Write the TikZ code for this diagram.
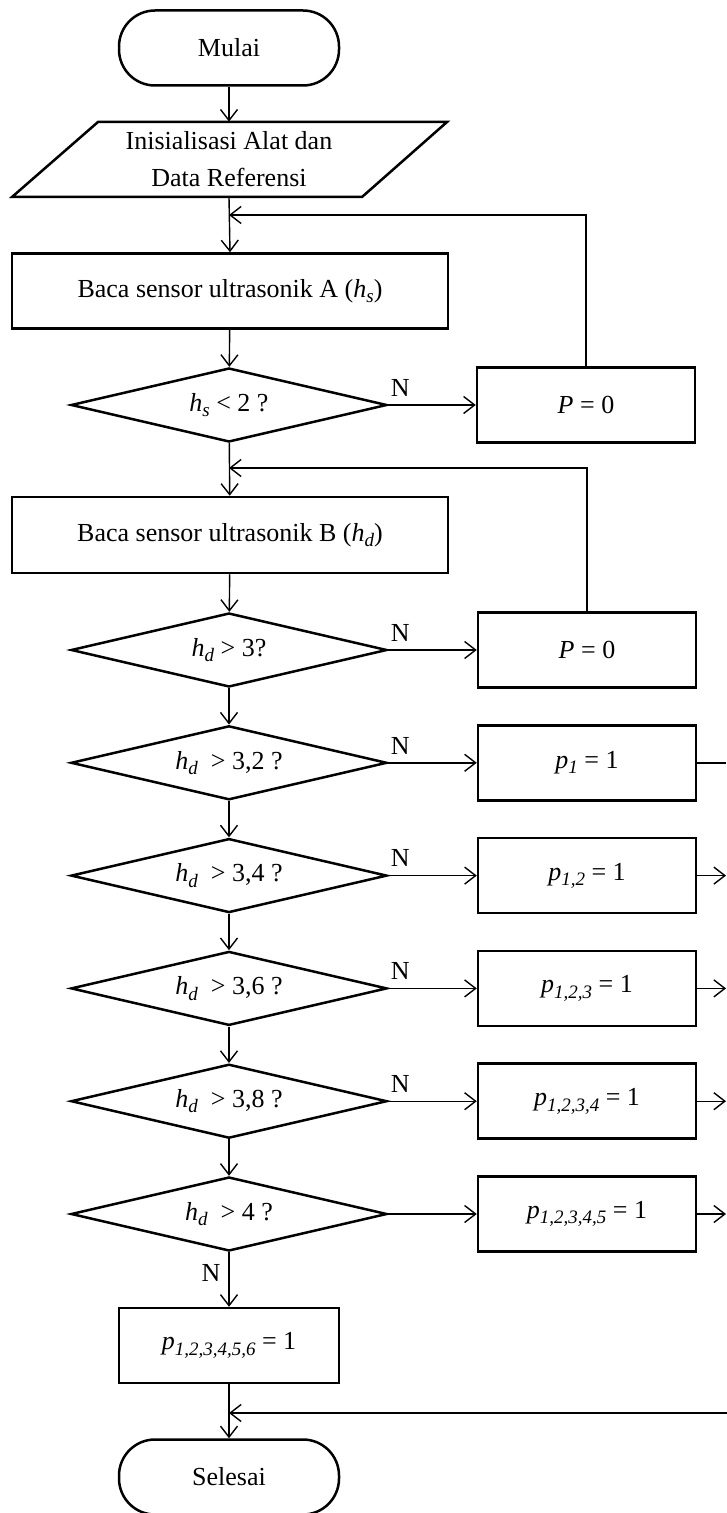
\documentclass[tikz,border=0pt]{standalone}
\usepackage{fontspec}
\setmainfont{Liberation Serif}
\usetikzlibrary{shapes.geometric,arrows.meta}
\newcommand{\lowsub}[1]{\raisebox{-.45ex}{\fontsize{9.5}{9.5}\selectfont\itshape #1}}
\newcommand{\hvar}[1]{\textit{h}\lowsub{#1}}
\newcommand{\pvar}[1]{\textit{p}\lowsub{#1}}

\begin{document}
\begin{tikzpicture}[x=.5pt,y=-.5pt,
    every node/.style={font=\fontsize{13}{18.5}\selectfont},
    box/.style={draw,line width=1.25pt,minimum height=37.5pt,inner sep=0pt},
    term/.style={box,rounded corners=18pt,minimum width=110pt},
    cond/.style={draw,line width=1.25pt,diamond,aspect=4.3,inner sep=0pt,minimum width=158pt,minimum height=37pt},
    arr/.style={line width=.7pt,-{Straight Barb[length=5.5pt,width=8.5pt]}},
    plain/.style={line width=.7pt},
    nlab/.style={anchor=south west,inner sep=0pt,xshift=1pt,yshift=4pt}]
    \useasboundingbox (0,0) rectangle (727,1513);
    % main column
    \node[term] (start) at (229,48) {Mulai};
    \node[minimum width=175pt,minimum height=37.5pt,inner sep=0pt,align=center] (init) at (229,159.5) {Inisialisasi Alat dan\\Data Referensi};
    \draw[line width=1.25pt] (98,122)--(447,122)--(362,197)--(12,197)--cycle;
    \node[box,minimum width=218pt] (readA) at (230,291) {Baca sensor ultrasonik A (\hvar{s})};
    \node[cond] (cekA) at (229,405) {\hvar{s} < 2 ?};
    \node[box,minimum width=109pt] (zeroA) at (586,405) {\textit{P} = 0};
    \node[box,minimum width=218pt,minimum height=38pt] (readB) at (230,535) {Baca sensor ultrasonik B (\hvar{d})};
    \node[cond] (cek0) at (229,650) {\hvar{d} > 3?};
    \node[box,minimum width=109pt] (zeroB) at (587,650) {\textit{P} = 0};
    \foreach \k/\val/\idx in {1/{3,2}/{1},2/{3,4}/{1,2},3/{3,6}/{1,2,3},4/{3,8}/{1,2,3,4}}{
      \node[cond] (cek\k) at (229,{650+112.8*\k}) {\hvar{d}\ \ > \val\ ?};
      \node[box,minimum width=109pt] (set\k) at (587,{650+112.8*\k}) {\pvar{\idx} = 1};
      \coordinate (out\k) at (726,{650+112.8*\k});
    }
    \node[cond] (cek5) at (229,1214) {\hvar{d}\ \ > 4 ?};
    \node[box,minimum width=109pt] (set5) at (587,1214) {\pvar{1,2,3,4,5} = 1};
    \coordinate (out5) at (726,1214);
    \node[box,minimum width=110pt] (set6) at (229,1345.5) {\pvar{1,2,3,4,5,6} = 1};
    \node[term] (stop) at (229,1477) {Selesai};
    \coordinate (joinA) at (229,215);
    \coordinate (joinB) at (229,468);
    \coordinate (joinC) at (229,1413);
    \coordinate (back) at (727,1413);
    % connectors
    \draw[arr] (start.south) -- (init.north);
    \draw[arr] (init.south) -- (readA.north);
    \draw[arr] (readA) -- (cekA);
    \draw[arr] (cekA) -- node[pos=0,nlab]{N} (zeroA);
    \draw[arr] (zeroA.north) |- (joinA);
    \draw[arr] (cekA) -- (readB);
    \draw[arr] (readB) -- (cek0);
    \draw[arr] (cek0) -- node[pos=0,nlab]{N} (zeroB);
    \draw[arr] (zeroB.north) |- (joinB);
    \foreach \k [evaluate=\k as \j using int(\k-1)] in {1,...,4}{
      \draw[arr] (cek\j) -- (cek\k);
      \draw[arr] (cek\k) -- node[pos=0,nlab]{N} (set\k);
    }
    \draw[arr] (cek4) -- (cek5);
    \draw[arr] (cek5) -- (set5);
    \draw[arr] (cek5) -- node[pos=.38,anchor=east,inner sep=0pt,xshift=-4pt]{N} (set6);
    \draw[arr] (set6) -- (stop);
    \draw[plain] (set1.east) -- (out1);
    \foreach \k in {2,...,5}{\draw[arr] (set\k.east) -- (out\k);}
    \draw[arr] (back) -- (joinC);
\end{tikzpicture}
\end{document}
